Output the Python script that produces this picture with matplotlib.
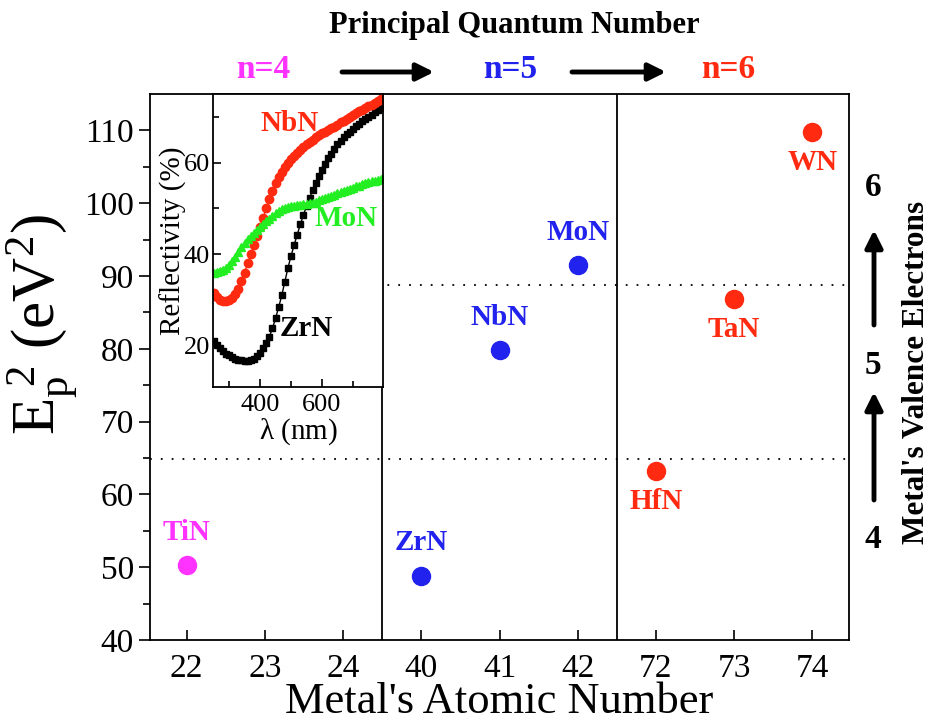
from matplotlib import pyplot as plt
from matplotlib.patches import FancyArrowPatch
import numpy as np

plt.rcParams['font.family'] = 'Liberation Serif'
plt.rcParams['mathtext.fontset'] = 'custom'
plt.rcParams['mathtext.rm'] = 'Liberation Serif'
plt.rcParams['mathtext.it'] = 'Liberation Serif:italic'
plt.rcParams['mathtext.bf'] = 'Liberation Serif:bold'

# Main data
tick_labels = ['22', '23', '24', '40', '41', '42', '72', '73', '74']
names = ['TiN', 'ZrN', 'NbN', 'MoN', 'HfN', 'TaN', 'WN']
pos = [0, 3, 4, 5, 6, 7, 8]
ep2 = [50.3, 48.8, 79.8, 91.5, 63.2, 86.8, 109.8]
colors = ['#ff33ff', '#2222ee', '#2222ee', '#2222ee', '#ff2a10', '#ff2a10', '#ff2a10']
label_side = ['above', 'above', 'above', 'above', 'below', 'below', 'below']
dividers = [2.5, 5.5]
valence_lines = [64.8, 88.8]

# Inset reflectivity data (read every 10 nm)
wl = [250, 260, 270, 280, 290, 300, 310, 320, 330, 340, 350, 360, 370, 380,
      390, 400, 410, 420, 430, 440, 450, 460, 470, 480, 490, 500, 510, 520,
      530, 540, 550, 560, 570, 580, 590, 600, 610, 620, 630, 640, 650, 660,
      670, 680, 690, 700, 710, 720, 730, 740, 750, 760, 770, 780, 790, 800]
refl_zrn = [21, 20.2, 19.5, 18.8, 18.3, 17.9, 17.5, 17.2, 17, 16.8, 16.7, 16.7, 16.8, 17.2,
            17.8, 18.5, 19.5, 20.6, 22, 23.8, 26, 28.4, 31, 34, 37, 39.6, 42, 44.3,
            46.5, 48.6, 50.5, 52.3, 54, 55.6, 57, 58.5, 59.8, 61, 62, 63, 64, 64.8,
            65.5, 66.2, 66.8, 67.4, 68, 68.5, 69, 69.5, 70, 70.5, 71, 71.5, 72, 72.5]
refl_nbn = [31.5, 30.6, 30, 29.8, 29.8, 30, 30.5, 31.3, 32.5, 34.2, 36, 38, 40, 42,
            44, 46, 48, 50, 52, 53.8, 55.5, 56.8, 58, 59, 60, 60.8, 61.5, 62.2,
            62.8, 63.4, 64, 64.5, 65, 65.5, 66, 66.4, 66.8, 67.2, 67.5, 67.9, 68.3, 68.8,
            69.2, 69.6, 70, 70.4, 70.8, 71.2, 71.6, 72, 72.3, 72.7, 73, 73.5, 74, 74.5]
refl_mon = [36, 36.1, 36.3, 36.6, 37, 37.7, 38.5, 39.5, 40.5, 41.5, 42.5, 43.3, 44, 44.7,
            45.3, 45.9, 46.5, 47.2, 47.8, 48.4, 49, 49.4, 49.8, 50.1, 50.3, 50.5, 50.6, 50.7,
            50.8, 50.9, 51, 51.1, 51.3, 51.5, 51.8, 52, 52.3, 52.5, 52.8, 53, 53.3, 53.5,
            53.8, 54, 54.3, 54.5, 54.8, 55, 55.3, 55.5, 55.7, 55.9, 56, 56.3, 56.5, 56.8]

W, H = 942, 721
fig = plt.figure(figsize=(W / 100, H / 100), dpi=100)

def fx(px):
    return px / W

def fy(py):
    return 1 - py / H

ax = fig.add_axes([fx(150), fy(640), fx(849) - fx(150), fy(94) - fy(640)])
ax.set_xlim(-0.47, 8.47)
ax.set_ylim(40, 115)

for xd in dividers:
    ax.axvline(xd, color='black', lw=1.3)
ax.axhline(valence_lines[0], color='black', lw=1.3, ls=(0, (1, 5)))
ax.plot([2.5, 8.47], [valence_lines[1]] * 2, color='black', lw=1.3, ls=(3, (1, 5)))

for i in range(len(names)):
    ax.plot(pos[i], ep2[i], 'o', color=colors[i], ms=13, mec=colors[i])
    if label_side[i] == 'above':
        ax.annotate(names[i], (pos[i], ep2[i]), xytext=(0, 14), textcoords='offset points',
                    ha='center', va='bottom', color=colors[i], fontsize=21, fontweight='bold')
    else:
        ax.annotate(names[i], (pos[i], ep2[i]), xytext=(0, -12), textcoords='offset points',
                    ha='center', va='top', color=colors[i], fontsize=21, fontweight='bold')

ax.set_xticks(np.arange(9))
ax.set_xticklabels(tick_labels)
ax.set_yticks(np.arange(40, 111, 10))
ax.set_yticks(np.arange(45, 115, 10), minor=True)
ax.tick_params(axis='x', direction='in', length=7, width=1.2, labelsize=24, pad=10)
ax.tick_params(axis='y', which='major', direction='out', length=8, width=1.2, labelsize=24)
ax.tick_params(axis='y', which='minor', direction='out', length=5, width=1.2)
ax.tick_params(axis='x', which='minor', bottom=False)
for s in ax.spines.values():
    s.set_linewidth(1.3)
ax.set_xlabel("Metal's Atomic Number", fontsize=32, labelpad=-2)
fig.text(fx(43), fy(325), r'E$_\mathregular{p}^{\ \mathregular{2}}$ (eV$^\mathregular{2}$)',
         rotation=90, ha='center', va='center', fontsize=44)

# top annotations
fig.text(fx(514), fy(25), 'Principal Quantum Number', ha='center', va='center',
         fontsize=22, fontweight='bold')
fig.text(fx(263), fy(70), 'n=4', ha='center', va='center', fontsize=24,
         fontweight='bold', color='#ff33ff')
fig.text(fx(510), fy(70), 'n=5', ha='center', va='center', fontsize=24,
         fontweight='bold', color='#2222ee')
fig.text(fx(728), fy(70), 'n=6', ha='center', va='center', fontsize=24,
         fontweight='bold', color='#ff2a10')

def fig_arrow(x0, y0, x1, y1):
    fig.add_artist(FancyArrowPatch((fx(x0), fy(y0)), (fx(x1), fy(y1)),
                                   transform=fig.transFigure, arrowstyle='-|>',
                                   mutation_scale=26, color='black', lw=3.5,
                                   shrinkA=0, shrinkB=0))

fig_arrow(342, 72, 434, 72)
fig_arrow(572, 72, 666, 72)

# right annotations
fig.text(fx(873), fy(188), '6', ha='center', va='center', fontsize=24, fontweight='bold')
fig.text(fx(873), fy(365), '5', ha='center', va='center', fontsize=24, fontweight='bold')
fig.text(fx(873), fy(540), '4', ha='center', va='center', fontsize=24, fontweight='bold')
fig.text(fx(917), fy(372), "Metal's Valence Electrons", rotation=90, ha='center',
         va='center', fontsize=22.5, fontweight='bold')
fig_arrow(874, 325, 874, 230)
fig_arrow(874, 500, 874, 392)

# inset
ins = fig.add_axes([fx(213), fy(387), fx(383) - fx(213), fy(94) - fy(387)])
ins.plot(wl, refl_zrn, 's-', color='black', ms=5, lw=1)
ins.plot(wl, refl_nbn, 'o-', color='#ff2a10', ms=6, lw=1)
ins.plot(wl, refl_mon, '^-', color='#22ee22', ms=6, lw=1)
ins.set_xlim(248, 797)
ins.set_ylim(11, 75)
ins.set_xticks([400, 600])
ins.set_xticks([300, 500, 700], minor=True)
ins.set_yticks([20, 40, 60])
ins.set_yticks([30, 50, 70], minor=True)
ins.tick_params(which='both', direction='in', labelsize=19, width=1.2)
ins.tick_params(which='major', length=6)
ins.tick_params(which='minor', length=4)
ins.tick_params(axis='x', pad=5)
ins.tick_params(axis='y', pad=2)
for s in ins.spines.values():
    s.set_linewidth(1.3)
ins.set_xlabel(r'$\mathregular{\lambda}$ (nm)', fontsize=21, labelpad=0)
ins.set_ylabel('Reflectivity (%)', fontsize=21, labelpad=-2)
ins.text(0.45, 0.90, 'NbN', transform=ins.transAxes, ha='center', va='center',
         color='#ff2a10', fontsize=21, fontweight='bold')
ins.text(0.78, 0.576, 'MoN', transform=ins.transAxes, ha='center', va='center',
         color='#22ee22', fontsize=21, fontweight='bold')
ins.text(0.55, 0.20, 'ZrN', transform=ins.transAxes, ha='center', va='center',
         color='black', fontsize=21, fontweight='bold')

plt.savefig('out.png', dpi=100)
